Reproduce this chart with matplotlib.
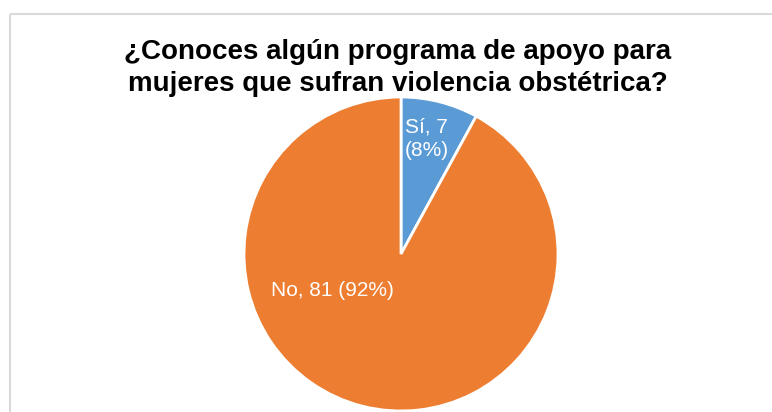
import matplotlib.pyplot as plt
from matplotlib.patches import Rectangle

plt.rcParams["font.family"] = ["Liberation Sans", "DejaVu Sans"]

labels = ["Sí", "No"]
counts = [7, 81]
colors = ["#5B9BD5", "#ED7D31"]
title = "¿Conoces algún programa de apoyo para\nmujeres que sufran violencia obstétrica?"

W, H = 772, 412
fig = plt.figure(figsize=(W / 100, H / 100), dpi=100)
ax = fig.add_axes([0, 0, 1, 1])

# chart frame (cropped, only top and left edges visible)
ax.add_patch(Rectangle((10, 14), W + 20, H + 20, fill=False,
                       edgecolor="#D9D9D9", linewidth=1.5))

cx, cy, r = 401, 254, 157
total = sum(counts)
wedges, _ = ax.pie(counts, colors=colors, startangle=90, counterclock=False,
                   center=(cx, cy), radius=r, frame=True,
                   wedgeprops=dict(edgecolor="white", linewidth=2))
# pie draws in y-up; flip angles since ylim is inverted
ax.set_xlim(0, W)
ax.set_ylim(H, 0)
ax.set_aspect("equal")
ax.axis("off")
for w in wedges:
    t1, t2 = w.theta1, w.theta2
    w.set_theta1(-t2)
    w.set_theta2(-t1)

pct = [round(c / total * 100) for c in counts]
ax.text(405, 139, f"{labels[0]}, {counts[0]}\n({pct[0]}%)", color="white",
        fontsize=15, ha="left", va="center", linespacing=1.3)
ax.text(332, 291, f"{labels[1]}, {counts[1]} ({pct[1]}%)", color="white",
        fontsize=15, ha="center", va="center")

ax.text(398, 68, title, fontsize=20, fontweight="bold", ha="center",
        va="center", linespacing=1.3, color="black")

fig.savefig("out.png", dpi=100)
